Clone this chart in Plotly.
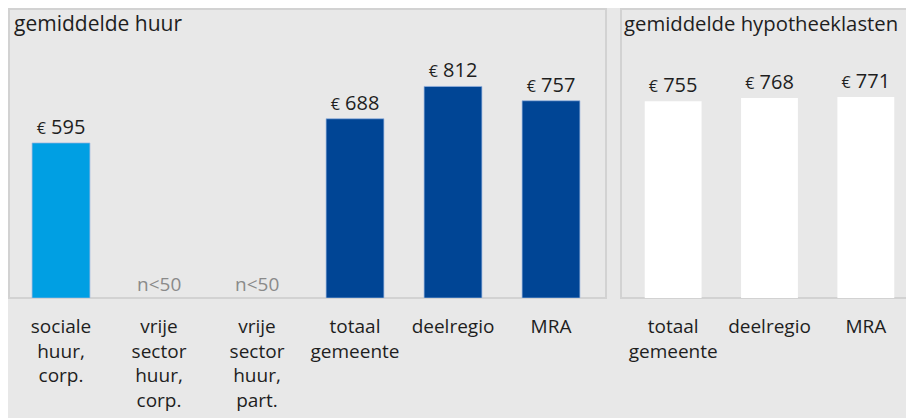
import plotly.graph_objects as go

# ---- data ----
huur_categories = ["sociale<br>huur,<br>corp.", "vrije<br>sector<br>huur,<br>corp.", "vrije<br>sector<br>huur,<br>part.",
                   "totaal<br>gemeente", "deelregio", "MRA"]
huur_values = [595, None, None, 688, 812, 757]
huur_colors = ["#009fe3", "#004595", "#004595", "#004595", "#004595", "#004595"]
huur_small_n = ["", "n<50", "n<50", "", "", ""]

hyp_categories = ["totaal<br>gemeente", "deelregio", "MRA"]
hyp_values = [755, 768, 771]

title_left = "gemiddelde huur"
title_right = "gemiddelde hypotheeklasten"

# figure sits at (8,8) in the page because of the default body margin
W, H = 906, 410
FONT = "Open Sans"
TXT = "#1e1e1e"
BG = "#e8e8e8"

def px(x):
    return (x - 8) / W

def py(y):
    return 1 - (y - 8) / H

fig = go.Figure()

def lbl(v):
    return "" if v is None else "<span style='font-size:16px'>€</span> " + str(v)

fig.add_trace(go.Bar(
    x=huur_categories, y=huur_values,
    marker=dict(color=huur_colors, line=dict(color="rgba(150,180,225,0.7)", width=1)),
    text=[lbl(v) for v in huur_values], textposition="outside", cliponaxis=False,
    textfont=dict(family=FONT, size=20, color=TXT),
    xaxis="x", yaxis="y", hoverinfo="skip", showlegend=False,
))
fig.add_trace(go.Bar(
    x=hyp_categories, y=hyp_values,
    marker=dict(color="#ffffff", line=dict(width=0)),
    text=[lbl(v) for v in hyp_values], textposition="outside", cliponaxis=False,
    textfont=dict(family=FONT, size=20, color=TXT),
    xaxis="x2", yaxis="y2", hoverinfo="skip", showlegend=False,
))

for cat, t in zip(huur_categories, huur_small_n):
    if t:
        fig.add_annotation(x=cat, y=0, xref="x", yref="y", text=t, showarrow=False,
                           yanchor="bottom", yshift=-1,
                           font=dict(family=FONT, size=19, color="#8a8a8a"))

ymax = 1113
axis_common = dict(showgrid=False, zeroline=False, showline=False, ticks="outside",
                   ticklen=11, tickcolor="rgba(0,0,0,0)",
                   tickfont=dict(family=FONT, size=19, color=TXT))
fig.update_layout(
    width=W, height=H,
    margin=dict(l=0, r=0, t=0, b=0),
    paper_bgcolor=BG, plot_bgcolor=BG,
    bargap=0.41,
    xaxis=dict(domain=[px(12), px(600)], anchor="y", **axis_common),
    yaxis=dict(domain=[py(298), py(8)], range=[0, ymax], visible=False),
    xaxis2=dict(domain=[px(625), px(914)], anchor="y2", **axis_common),
    yaxis2=dict(domain=[py(298), py(8)], range=[0, ymax], visible=False),
)

fig.add_shape(type="rect", xref="paper", yref="paper", x0=px(9), x1=px(606), y0=py(298), y1=py(9),
              line=dict(color="#d2d2d2", width=2), fillcolor="rgba(0,0,0,0)", layer="below")
fig.add_shape(type="rect", xref="paper", yref="paper", x0=px(621), x1=px(920), y0=py(298), y1=py(9),
              line=dict(color="#d2d2d2", width=2), fillcolor="rgba(0,0,0,0)", layer="below")

fig.add_annotation(xref="paper", yref="paper", x=px(12), y=py(23), text=title_left, showarrow=False,
                   xanchor="left", yanchor="middle", font=dict(family=FONT, size=21, color=TXT))
fig.add_annotation(xref="paper", yref="paper", x=px(622), y=py(23), text=title_right, showarrow=False,
                   xanchor="left", yanchor="middle", font=dict(family=FONT, size=20.3, color=TXT))

fig.write_html("out.html")
